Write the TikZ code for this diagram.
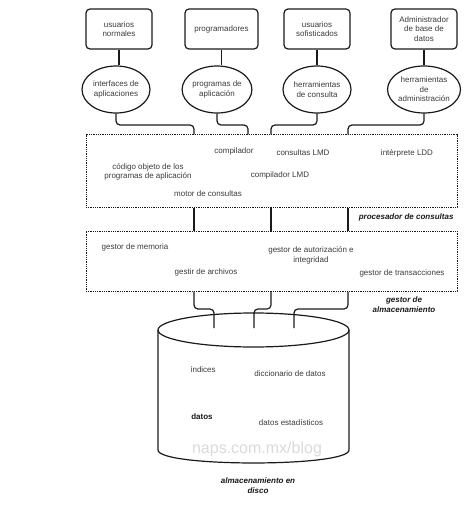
\documentclass[tikz,border=0pt]{standalone}
\usepackage{fontspec}
\setmainfont{Liberation Sans}
\usetikzlibrary{shapes.geometric,calc}
\definecolor{ln}{HTML}{1A1A1A}
\definecolor{txt}{HTML}{3A3A3A}
\definecolor{wm}{HTML}{DADADA}
\begin{document}
\begin{tikzpicture}[x=1pt,y=-1pt,
  every node/.style={font=\fontsize{8}{9.5}\selectfont, text=txt},
  userbox/.style={draw=ln, line width=1.2pt, rounded corners=4pt, minimum width=66pt, minimum height=40pt, align=center, inner sep=1pt},
  tool/.style={draw=ln, line width=1.2pt, ellipse, minimum width=68pt, minimum height=47pt, align=center, inner sep=0pt},
  dotbox/.style={draw=ln, line width=1pt, dash pattern=on 1pt off 0.8pt, minimum width=371pt, inner sep=0pt},
  conn/.style={draw=ln, line width=1.2pt, rounded corners=4pt},
  captext/.style={font=\fontsize{8}{9.5}\selectfont\bfseries\itshape, text=black!90, align=center},
  lbl/.style={align=center}]
\useasboundingbox (0,0) rectangle (474,505);

% users
\node[userbox] (b1) at (119,29) {usuarios\\normales};
\node[userbox, minimum width=73pt] (b2) at (221.5,29) {programadores};
\node[userbox] (b3) at (317,29) {usuarios\\sofisticados};
\node[userbox] (b4) at (424,29) {Administrador\\de base de\\datos};

% tools
\node[tool] (e1) at (116,89.5) {interfaces de\\aplicaciones};
\node[tool, minimum width=66pt] (e2) at (217,89.5) {programas de\\aplicación};
\node[tool] (e3) at (317,89.5) {herramientas\\de consulta};
\node[tool] (e4) at (424,89.5) {herramientas\\de\\administración};

\foreach \i in {1,2,3,4}{
  \draw[conn] (b\i.south) -- (b\i.south |- e\i.north);
}

% dotted boxes
\node[dotbox, minimum height=72pt] (qp) at (271.5,171) {};
\node[dotbox, minimum height=60pt] (sm) at (271.5,261) {};

\coordinate (k1) at (194,125);
\coordinate (k2) at (248,125);
\coordinate (k3) at (271,125);
\coordinate (k4) at (348,125);

\draw[conn] (e1.south) |- (k1) -- (k1 |- qp.north);
\draw[conn] (e2.south) |- (k2) -- (k2 |- qp.north);
\draw[conn] (e3.south) |- (k3) -- (k3 |- qp.north);
\draw[conn] (e4.south) |- (k4) -- (k4 |- qp.north);

\draw[conn] (k1 |- qp.south) -- (k1 |- sm.north);
\draw[conn] (k3 |- qp.south) -- (k3 |- sm.north);
\draw[conn] (k4 |- qp.south) -- (k4 |- sm.north);

% query processor contents
\node (t1) at (234,151) {compilador};
\node (t2) at (303,153) {consultas LMD};
\node (t3) at (407,153) {intèrprete LDD};
\node[lbl] (t4) at (148,172) {código objeto de los\\programas de aplicación};
\node (t5) at (280,175) {compilador LMD};
\node (t6) at (208,194) {motor de consultas};
\node[captext, anchor=east] (c1) at (457,217) {procesador de consultas};

% storage manager contents
\node (s1) at (135,247) {gestor de memoria};
\node[lbl] (s2) at (311,255.5) {gestor de autorización e\\integridad};
\node (s3) at (206,272) {gestir de archivos};
\node (s4) at (402,273) {gestor de transacciones};
\node[captext] (c2) at (404,304.5) {gestor de\\almacenamiento};

% disk
\node[font=\fontsize{16}{18}\selectfont, text=wm] (w) at (257,449) {naps.com.mx/blog};
\draw[ln, line width=1.2pt] (253.5,330) ellipse [x radius=95.5, y radius=17];
\draw[ln, line width=1.2pt] (158,330) -- (158,450) .. controls (158,467.3) and (349,467.3) .. (349,450) -- (349,330);

\coordinate (d1) at (214,328);
\coordinate (d2) at (254,328);
\coordinate (d3) at (294,328);
\coordinate (tt) at (0,309);
\draw[conn] (k1 |- sm.south) |- (d1 |- tt) -- (d1);
\draw[conn] (k3 |- sm.south) |- (d2 |- tt) -- (d2);
\draw[conn] (k4 |- sm.south) |- (d3 |- tt) -- (d3);

\node (x1) at (203,370) {índices};
\node (x2) at (290,374) {diccionario de datos};
\node[font=\fontsize{8}{9.5}\selectfont\bfseries, text=black!90] (x3) at (202,417) {datos};
\node (x4) at (291,423) {datos estadísticos};
\node[captext] (c3) at (258,485.5) {almacenamiento en\\disco};
\end{tikzpicture}
\end{document}
